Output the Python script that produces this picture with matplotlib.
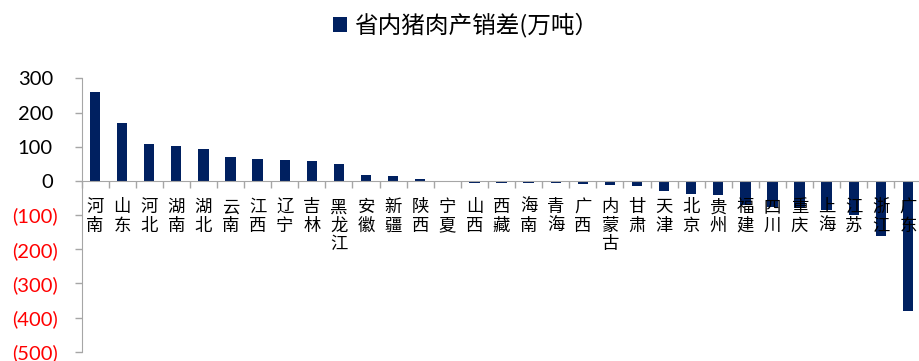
import numpy as np
import matplotlib.pyplot as plt
from matplotlib.transforms import ScaledTranslation

provinces = ["河南", "山东", "河北", "湖南", "湖北", "云南", "江西", "辽宁", "吉林", "黑龙江",
             "安徽", "新疆", "陕西", "宁夏", "山西", "西藏", "海南", "青海", "广西", "内蒙古",
             "甘肃", "天津", "北京", "贵州", "福建", "四川", "重庆", "上海", "江苏", "浙江", "广东"]
balance = [260, 170, 108, 103, 93, 69, 64, 60, 57, 50,
           18, 14, 6, 0, -5, -5, -6, -6, -9, -11,
           -14, -30, -39, -41, -70, -75, -80, -85, -100, -160, -380]
y_ticks = [300, 200, 100, 0, -100, -200, -300, -400, -500]
series_name = "省内猪肉产销差(万吨）"

navy = "#002060"
grey = "#a6a6a6"
cjk = ["Noto Sans CJK SC", "DejaVu Sans"]

fig = plt.figure(figsize=(9.19, 3.61), dpi=100)
ax = fig.add_axes([0.0887, 0.0258, 0.9140, 0.757])

x = np.arange(len(provinces))
bars = ax.bar(x, balance, width=0.38, color=navy, label=series_name, zorder=1)

ax.set_xlim(-0.5, len(provinces) - 0.5)
ax.set_ylim(-500, 300)

# spines: y axis on the left, x axis along zero
for side in ["top", "right"]:
    ax.spines[side].set_visible(False)
ax.spines["left"].set_color(grey)
ax.spines["bottom"].set_color(grey)
ax.spines["bottom"].set_position(("data", 0))
ax.spines["bottom"].set_zorder(3)

# province names, one character per line
ax.set_xticks(x)
ax.set_xticklabels(["\n".join(p) for p in provinces], family=cjk, fontsize=12.5,
                   linespacing=1.03, va="top", zorder=4)
ax.set_xticks(np.arange(len(provinces) + 1) - 0.5, minor=True)
ax.tick_params(axis="x", which="major", length=0, pad=12.5)
ax.tick_params(axis="x", which="minor", length=5, color=grey, width=1)

ax.set_yticks(y_ticks)
ax.set_yticklabels([f"{v}" if v >= 0 else f"({-v})" for v in y_ticks],
                   family="Lato", fontsize=14.5)
ax.tick_params(axis="y", length=5, color=grey, width=1, pad=12)
shift = ScaledTranslation(-5 / 100, 0, fig.dpi_scale_trans)
for v, lab in zip(y_ticks, ax.get_yticklabels()):
    if v < 0:
        lab.set_color("#ff0000")
    else:
        lab.set_color("black")
        lab.set_transform(lab.get_transform() + shift)

fig.legend(handles=[bars], loc="center", bbox_to_anchor=(0.507, 1 - 25 / 361),
           frameon=False, prop={"family": cjk, "size": 17},
           handlelength=0.6, handleheight=0.6, handletextpad=0.3)

fig.savefig("out.png", dpi=100)
